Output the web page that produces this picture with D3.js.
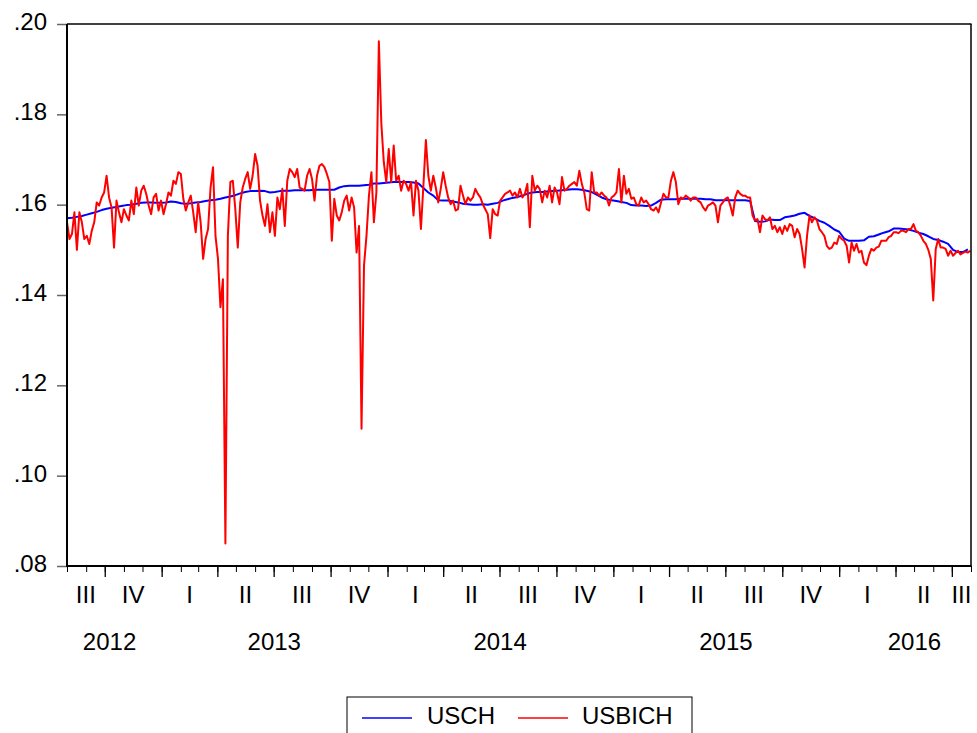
<!DOCTYPE html>
<html>
<head>
<meta charset="utf-8">
<script src="https://cdn.jsdelivr.net/npm/d3@7"></script>
<style>
  body { margin: 0; background: #fff; }
  svg { display: block; }
  text { font-family: Arial, "Liberation Sans", sans-serif; fill: #000; }
</style>
</head>
<body>
<svg id="chart" width="977" height="733"></svg>
<script>
// Daily exchange-rate series, sampled on a regular calendar grid from 1 Aug 2012
const startDate = new Date(2012, 7, 1);
const endDate = new Date(2016, 7, 1);
const uschStepDays = 8;
const usbichStepDays = 4;

const usch = [
  .1570,.1571,.1573,.1575,.1578,.1581,.1584,.1588,.1591,.1593,
  .1595,.1597,.1599,.1600,.1602,.1604,.1605,.1605,.1604,.1604,
  .1605,.1607,.1606,.1603,.1602,.1603,.1605,.1606,.1608,.1610,
  .1611,.1613,.1616,.1618,.1621,.1625,.1628,.1630,.1630,.1631,
  .1630,.1627,.1628,.1630,.1631,.1631,.1632,.1632,.1632,.1632,
  .1633,.1633,.1633,.1633,.1633,.1638,.1641,.1642,.1642,.1642,
  .1643,.1644,.1647,.1647,.1648,.1649,.1650,.1650,.1650,.1650,
  .1649,.1647,.1637,.1627,.1620,.1610,.1609,.1609,.1607,.1605,
  .1602,.1601,.1600,.1600,.1601,.1600,.1602,.1604,.1609,.1612,
  .1615,.1617,.1620,.1624,.1627,.1628,.1628,.1629,.1630,.1631,
  .1632,.1633,.1634,.1634,.1633,.1631,.1628,.1622,.1616,.1612,
  .1610,.1608,.1606,.1604,.1599,.1598,.1598,.1597,.1598,.1604,
  .1611,.1612,.1612,.1612,.1613,.1613,.1613,.1613,.1613,.1612,
  .1612,.1610,.1610,.1610,.1610,.1610,.1610,.1610,.1608,.1564,
  .1562,.1563,.1567,.1566,.1566,.1572,.1574,.1576,.1580,.1582,
  .1575,.1570,.1564,.1560,.1553,.1545,.1540,.1525,.1520,.1520,
  .1520,.1521,.1529,.1530,.1534,.1538,.1541,.1547,.1547,.1546,
  .1545,.1542,.1538,.1535,.1530,.1524,.1522,.1518,.1513,.1500,
  .1495,.1495,.1501
];

const usbich = [
  .1561,.1524,.1535,.1583,.1500,.1583,.1561,.1524,.1531,.1513,
  .1542,.1561,.1605,.1598,.1616,.1627,.1664,.1616,.1594,.1505,
  .1609,.1583,.1561,.1590,.1576,.1565,.1609,.1579,.1638,.1598,
  .1631,.1642,.1624,.1598,.1579,.1616,.1624,.1587,.1609,.1579,
  .1601,.1627,.1620,.1653,.1646,.1672,.1668,.1613,.1587,.1605,
  .1620,.1583,.1539,.1605,.1561,.1480,.1524,.1546,.1638,.1683,
  .1531,.1480,.1373,.1435,.0850,.1531,.1650,.1653,.1590,.1505,
  .1605,.1638,.1657,.1672,.1635,.1664,.1712,.1686,.1609,.1576,
  .1553,.1601,.1539,.1583,.1531,.1616,.1590,.1635,.1553,.1653,
  .1679,.1672,.1661,.1679,.1638,.1635,.1631,.1664,.1679,.1657,
  .1609,.1664,.1686,.1690,.1683,.1668,.1650,.1520,.1613,.1576,
  .1565,.1583,.1609,.1620,.1587,.1616,.1594,.1494,.1553,.1104,
  .1465,.1531,.1620,.1672,.1561,.1627,.1962,.1780,.1694,.1650,
  .1723,.1650,.1731,.1653,.1664,.1631,.1653,.1646,.1631,.1650,
  .1576,.1653,.1631,.1546,.1642,.1743,.1664,.1631,.1664,.1638,
  .1605,.1635,.1672,.1642,.1616,.1601,.1609,.1587,.1590,.1642,
  .1620,.1601,.1616,.1609,.1616,.1635,.1624,.1616,.1601,.1590,
  .1579,.1526,.1590,.1579,.1576,.1609,.1616,.1624,.1627,.1631,
  .1620,.1627,.1616,.1635,.1616,.1624,.1646,.1550,.1664,.1631,
  .1642,.1635,.1605,.1631,.1616,.1642,.1605,.1638,.1627,.1601,
  .1661,.1631,.1635,.1642,.1646,.1650,.1642,.1675,.1646,.1627,
  .1590,.1587,.1672,.1627,.1627,.1620,.1627,.1620,.1616,.1598,
  .1616,.1620,.1627,.1679,.1605,.1664,.1624,.1635,.1613,.1616,
  .1601,.1598,.1616,.1605,.1609,.1601,.1590,.1587,.1594,.1583,
  .1605,.1624,.1616,.1616,.1653,.1672,.1650,.1601,.1616,.1613,
  .1620,.1616,.1609,.1616,.1616,.1609,.1605,.1594,.1587,.1598,
  .1601,.1605,.1598,.1561,.1598,.1605,.1613,.1616,.1598,.1576,
  .1616,.1631,.1624,.1620,.1620,.1616,.1616,.1576,.1565,.1568,
  .1539,.1576,.1568,.1565,.1572,.1546,.1553,.1539,.1550,.1535,
  .1553,.1542,.1557,.1553,.1528,.1546,.1535,.1502,.1461,.1531,
  .1576,.1561,.1572,.1565,.1546,.1539,.1531,.1509,.1502,.1505,
  .1516,.1513,.1531,.1524,.1520,.1509,.1472,.1516,.1498,.1513,
  .1494,.1498,.1472,.1466,.1487,.1502,.1498,.1505,.1507,.1520,
  .1520,.1520,.1528,.1531,.1539,.1539,.1537,.1542,.1542,.1539,
  .1546,.1546,.1557,.1542,.1539,.1531,.1520,.1513,.1500,.1480,
  .1388,.1502,.1524,.1505,.1505,.1502,.1487,.1498,.1487,.1493,
  .1498,.1490,.1493,.1496,.1494,.1498
];

const yTicks = [0.08, 0.10, 0.12, 0.14, 0.16, 0.18, 0.20];
const quarterNames = ["I", "II", "III", "IV"];
const seriesNames = ["USCH", "USBICH"];
const seriesColors = ["#0000ff", "#ff0000"];

const svg = d3.select("#chart");
const plot = { left: 67, right: 971, top: 24, bottom: 566 };

const x = d3.scaleTime().domain([startDate, endDate]).range([plot.left, plot.right]);
const y = d3.scaleLinear().domain([0.08, 0.20]).range([plot.bottom, plot.top]);

const toPoints = (vals, step) =>
  vals.map((v, i) => ({ date: d3.timeDay.offset(startDate, i * step), value: v }));

const series = [
  { name: seriesNames[0], color: seriesColors[0], points: toPoints(usch, uschStepDays) },
  { name: seriesNames[1], color: seriesColors[1], points: toPoints(usbich, usbichStepDays) }
];

// Y axis: grey ticks, labels like ".16"
const yAxis = svg.append("g")
  .attr("transform", `translate(${plot.left},0)`)
  .call(d3.axisLeft(y).tickValues(yTicks).tickSize(10).tickPadding(10)
    .tickFormat(d => d3.format(".2f")(d).replace(/^0/, "")));
yAxis.select(".domain").remove();
yAxis.selectAll(".tick line").attr("stroke", "#666").attr("stroke-width", 1.5);
yAxis.selectAll(".tick text").attr("font-size", 24).attr("dy", "0.23em")
  .attr("font-family", "Arial, 'Liberation Sans', sans-serif").attr("fill", "#000");

// X axis: monthly minor ticks, quarterly major ticks
const months = d3.timeMonth.range(startDate, d3.timeDay.offset(endDate, 1));
const quarterStarts = months.filter(d => d.getMonth() % 3 === 0);

const xMinor = svg.append("g")
  .attr("transform", `translate(0,${plot.bottom})`)
  .call(d3.axisBottom(x).tickValues(months).tickSize(6).tickFormat(""));
xMinor.select(".domain").remove();
xMinor.selectAll(".tick line").attr("stroke", "#000").attr("stroke-width", 1);

const xMajor = svg.append("g")
  .attr("transform", `translate(0,${plot.bottom})`)
  .call(d3.axisBottom(x).tickValues(quarterStarts).tickSize(11).tickFormat(""));
xMajor.select(".domain").remove();
xMajor.selectAll(".tick line").attr("stroke", "#000").attr("stroke-width", 1.3);

// Quarter labels centred in the visible part of each quarter
const qFirst = d3.timeMonth.offset(quarterStarts[0], -3);
const quarters = d3.timeMonth.every(3).range(qFirst, endDate)
  .map(q => {
    const a = q < startDate ? startDate : q;
    const qe = d3.timeMonth.offset(q, 3);
    const b = qe > endDate ? endDate : qe;
    return { year: q.getFullYear(), label: quarterNames[Math.floor(q.getMonth() / 3)], cx: (x(a) + x(b)) / 2 };
  })
  .filter(q => q.cx > plot.left && q.cx < plot.right);

svg.append("g").selectAll("text").data(quarters).join("text")
  .attr("x", d => d.cx).attr("y", 603)
  .attr("text-anchor", "middle").attr("font-size", 24)
  .text(d => d.label);

const years = d3.groups(quarters, d => d.year).map(([yr, qs]) =>
  ({ year: yr, cx: (qs[0].cx + qs[qs.length - 1].cx) / 2 }));

svg.append("g").selectAll("text").data(years).join("text")
  .attr("x", d => d.cx).attr("y", 650)
  .attr("text-anchor", "middle").attr("font-size", 24)
  .text(d => d.year);

// Series lines
const line = d3.line().x(d => x(d.date)).y(d => y(d.value));
svg.append("clipPath").attr("id", "plotClip").append("rect")
  .attr("x", plot.left).attr("y", plot.top)
  .attr("width", plot.right - plot.left).attr("height", plot.bottom - plot.top);

svg.append("g").attr("clip-path", "url(#plotClip)")
  .selectAll("path").data(series).join("path")
  .attr("d", d => line(d.points))
  .attr("fill", "none")
  .attr("stroke", d => d.color)
  .attr("stroke-width", 2)
  .attr("stroke-linejoin", "round");

// Frame
svg.append("line").attr("x1", plot.left).attr("x2", plot.right + 0.5)
  .attr("y1", plot.top).attr("y2", plot.top).attr("stroke", "#000").attr("stroke-width", 1.5);
svg.append("line").attr("x1", plot.right).attr("x2", plot.right)
  .attr("y1", plot.top).attr("y2", plot.bottom).attr("stroke", "#000").attr("stroke-width", 1.5);
svg.append("line").attr("x1", plot.left).attr("x2", plot.left)
  .attr("y1", plot.top).attr("y2", plot.bottom + 1).attr("stroke", "#000").attr("stroke-width", 2);
svg.append("line").attr("x1", plot.left - 1).attr("x2", plot.right + 0.5)
  .attr("y1", plot.bottom).attr("y2", plot.bottom).attr("stroke", "#000").attr("stroke-width", 2);

// Legend
const legend = svg.append("g");
legend.append("rect").attr("x", 347).attr("y", 697).attr("width", 345).attr("height", 60)
  .attr("fill", "#fff").attr("stroke", "#000").attr("stroke-width", 1);
const legendItems = [
  { x1: 362, x2: 412, tx: 427 },
  { x1: 518, x2: 568, tx: 582 }
];
series.forEach((s, i) => {
  const it = legendItems[i];
  legend.append("line").attr("x1", it.x1).attr("x2", it.x2).attr("y1", 718).attr("y2", 718)
    .attr("stroke", s.color).attr("stroke-width", 1.5);
  legend.append("text").attr("x", it.tx).attr("y", 724).attr("font-size", 24).text(s.name);
});
</script>
</body>
</html>
